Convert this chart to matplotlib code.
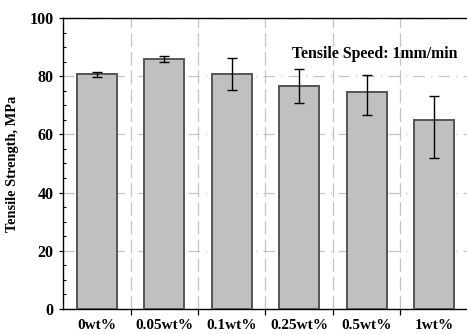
import numpy as np
import matplotlib.pyplot as plt
from matplotlib.ticker import MultipleLocator, FixedLocator

# Tensile strength data
labels = ['0wt%', '0.05wt%', '0.1wt%', '0.25wt%', '0.5wt%', '1wt%']
strength = [80.6, 85.9, 80.6, 76.7, 74.5, 64.9]
err_low = [0.7, 1.0, 5.3, 5.8, 7.9, 12.9]
err_high = [0.7, 1.1, 5.5, 5.9, 6.0, 8.3]

plt.rcParams['font.family'] = 'Liberation Serif'
plt.rcParams['font.weight'] = 'bold'

fig = plt.figure(figsize=(4.67, 3.34), dpi=100)
ax = fig.add_axes([0.135, 0.075, 0.867, 0.871])

x = np.arange(len(labels))
ax.bar(x, strength, width=0.59, color='#c0c0c0', edgecolor='#555555',
       linewidth=1.4, zorder=3)
ax.errorbar(x, strength, yerr=[err_low, err_high], fmt='none', ecolor='black',
            elinewidth=1.0, capsize=3.3, capthick=1.0, zorder=4)

ax.set_xlim(-0.5, 5.5)
ax.set_ylim(0, 100)

# ticks at the category boundaries, labels at the centres
ax.xaxis.set_major_locator(FixedLocator(x[:-1] + 0.5))
ax.xaxis.set_major_formatter(plt.NullFormatter())
ax.xaxis.set_minor_locator(FixedLocator(x))
ax.set_xticklabels(labels, minor=True)
ax.tick_params(axis='x', which='major', direction='out', length=4, width=0.9)
ax.tick_params(axis='x', which='minor', length=0, pad=7, labelsize=11)

ax.yaxis.set_major_locator(MultipleLocator(20))
ax.yaxis.set_minor_locator(MultipleLocator(5))
ax.tick_params(axis='y', which='major', direction='out', length=3, width=0.9,
               labelsize=11.5, pad=4)
ax.tick_params(axis='y', which='minor', direction='in', length=2, width=0.8)

ax.grid(axis='y', which='major', color='#c4c4c4', linestyle=(0, (9, 5, 1, 5)),
        linewidth=0.9, zorder=0)
ax.grid(axis='x', which='major', color='#c4c4c4', linestyle=(0, (11, 4)),
        linewidth=0.9, zorder=0)

for s in ['left', 'bottom', 'top']:
    ax.spines[s].set_linewidth(1.0)
ax.spines['right'].set_visible(False)

ax.set_ylabel('Tensile Strength, MPa', fontsize=10.4, fontweight='bold', labelpad=7)
ax.text(0.975, 0.875, 'Tensile Speed: 1mm/min', transform=ax.transAxes,
        ha='right', va='center', fontsize=11.4, fontweight='bold')

fig.savefig('out.png', dpi=100)
